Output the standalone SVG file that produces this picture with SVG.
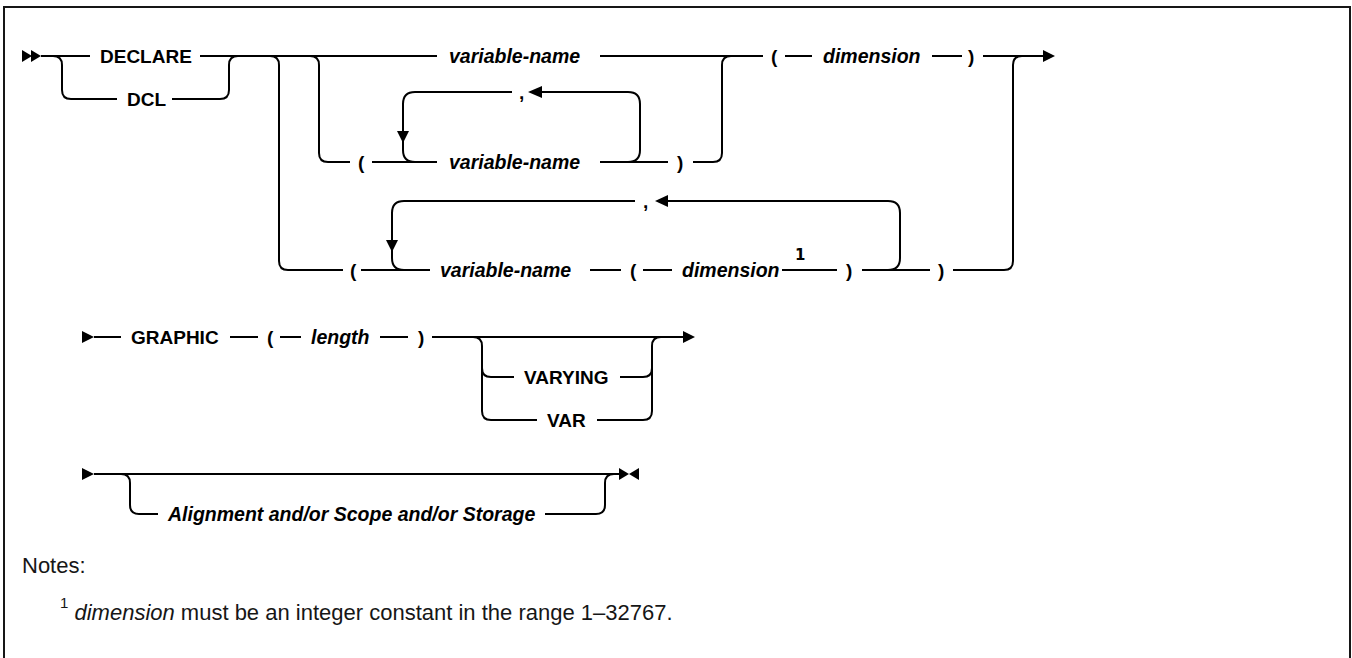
<svg xmlns="http://www.w3.org/2000/svg" width="1352" height="658" viewBox="0 0 1352 658">
<style>
.ln{fill:none;stroke:#000;stroke-width:2}
.ah{fill:#000;stroke:none}
.kw{font-family:"Liberation Sans",Arial,sans-serif;font-size:19px;font-weight:bold;fill:#000}
.vr{font-family:"Liberation Sans",Arial,sans-serif;font-size:19.5px;font-weight:bold;font-style:italic;fill:#000}
.sup{font-family:"DejaVu Sans",sans-serif;font-size:15px;font-weight:bold;fill:#000}
.nt{font-family:"Liberation Sans",Arial,sans-serif;font-size:22px;fill:#161616}
</style>
<rect x="4" y="7" width="1346" height="720" fill="#fff" stroke="#161616" stroke-width="2"/>
<g id="connectors">
<polygon class="ah" points="22,50 32,56 22,62"/>
<polygon class="ah" points="31,50 41,56 31,62"/>
<path class="ln" d="M41,56 H90 M200,56 H437 M600,56 H763 M785,56 H812 M932,56 H962 M983,56 H1043"/>
<polygon class="ah" points="1043,50 1055,56 1043,62"/>
<path class="ln" d="M53,56 Q62,56 62,65 V90 Q62,99 71,99 H117 M172,99 H220 Q229,99 229,90 V65 Q229,56 238,56"/>
<path class="ln" d="M270,56 Q279,56 279,65 V261 Q279,270 288,270 H343"/>
<path class="ln" d="M310,56 Q319,56 319,65 V153 Q319,162 328,162 H350"/>
<path class="ln" d="M372,162 H437"/>
<path class="ln" d="M628,162 Q640,162 640,150 V104 Q640,92 628,92 H542 M512,92 H415 Q403,92 403,104 V150 Q403,162 415,162"/>
<polygon class="ah" points="528,92 542,86 542,98"/>
<polygon class="ah" points="397,131 409,131 403,143"/>
<path class="ln" d="M600,162 H668 M693,162 H713 Q722,162 722,153 V65 Q722,56 731,56"/>
<path class="ln" d="M361,270 H430"/>
<path class="ln" d="M888,270 Q900,270 900,258 V213 Q900,201 888,201 H668 M635,201 H404 Q392,201 392,213 V258 Q392,270 404,270"/>
<polygon class="ah" points="655,201 668,195 668,207"/>
<polygon class="ah" points="386,240 398,240 392,252"/>
<path class="ln" d="M590,270 H621 M643,270 H672 M782,270 H837 M862,270 H930 M953,270 H1004 Q1013,270 1013,261 V65 Q1013,56 1022,56"/>
<polygon class="ah" points="82,331 94,337 82,343"/>
<path class="ln" d="M94,337 H121 M230,337 H258 M280,337 H301 M380,337 H408 M432,337 H683"/>
<polygon class="ah" points="683,331 695,337 683,343"/>
<path class="ln" d="M473,337 Q482,337 482,346 V411 Q482,420 491,420 H537 M482,368 Q482,377 491,377 H514"/>
<path class="ln" d="M620,377 H643 Q652,377 652,368 M597,420 H643 Q652,420 652,411 V346 Q652,337 661,337"/>
<polygon class="ah" points="82,468 94,474 82,480"/>
<path class="ln" d="M94,474 H619"/>
<path class="ln" d="M121,474 Q130,474 130,483 V505 Q130,514 139,514 H158 M545,514 H596 Q605,514 605,505 V483 Q605,474 614,474"/>
<polygon class="ah" points="619,468 629,474 619,480"/>
<polygon class="ah" points="639,468 629,474 639,480"/>
</g>
<g id="n-declare"><text class="kw" x="100" y="63">DECLARE</text></g>
<g id="n-dcl"><text class="kw" x="127" y="106">DCL</text></g>
<g id="n-varname1"><text class="vr" x="449" y="63">variable-name</text></g>
<g id="n-lparen1"><text class="kw" x="358" y="169">(</text></g>
<g id="n-comma1"><text class="kw" x="519" y="99">,</text></g>
<g id="n-varname2"><text class="vr" x="449" y="169">variable-name</text></g>
<g id="n-rparen1"><text class="kw" x="677" y="169">)</text></g>
<g id="n-lparen2"><text class="kw" x="771" y="63">(</text></g>
<g id="n-dim1"><text class="vr" x="823" y="63">dimension</text></g>
<g id="n-rparen2"><text class="kw" x="968" y="63">)</text></g>
<g id="n-lparen3"><text class="kw" x="350" y="277">(</text></g>
<g id="n-comma2"><text class="kw" x="643" y="208">,</text></g>
<g id="n-varname3"><text class="vr" x="440" y="277">variable-name</text></g>
<g id="n-lparen4"><text class="kw" x="630" y="277">(</text></g>
<g id="n-dim2"><text class="vr" x="682" y="277">dimension</text></g>
<g id="n-note1"><text class="sup" x="795" y="260">1</text></g>
<g id="n-rparen3"><text class="kw" x="846" y="277">)</text></g>
<g id="n-rparen4"><text class="kw" x="938" y="277">)</text></g>
<g id="n-graphic"><text class="kw" x="131" y="344">GRAPHIC</text></g>
<g id="n-lparen5"><text class="kw" x="267" y="344">(</text></g>
<g id="n-length"><text class="vr" x="311" y="344">length</text></g>
<g id="n-rparen5"><text class="kw" x="418" y="344">)</text></g>
<g id="n-varying"><text class="kw" x="524" y="384">VARYING</text></g>
<g id="n-var"><text class="kw" x="547" y="427">VAR</text></g>
<g id="n-align"><text class="vr" x="168" y="521">Alignment and/or Scope and/or Storage</text></g>
<g id="notes">
<text class="nt" x="22" y="573">Notes:</text>
<text class="nt" x="60" y="620"><tspan font-size="15" dy="-12">1</tspan><tspan dy="12" font-style="italic"> dimension</tspan> must be an integer constant in the range 1–32767.</text>
</g>
</svg>
